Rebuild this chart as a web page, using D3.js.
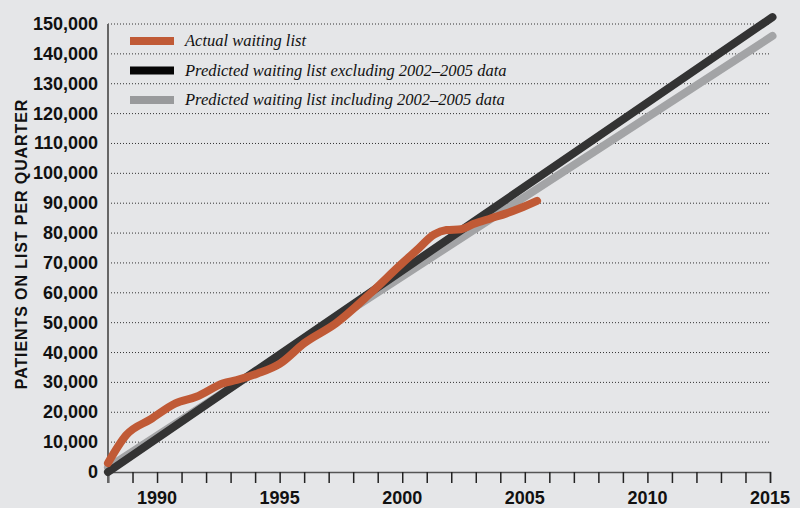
<!DOCTYPE html>
<html>
<head>
<meta charset="utf-8">
<script src="https://cdn.jsdelivr.net/npm/d3@7"></script>
<style>
  body { margin: 0; background: #e5e6e8; }
  svg { display: block; }
</style>
</head>
<body>
<svg width="800" height="508"></svg>
<script>
// actual waiting list (year, patients)
var actualYears = [1988.0, 1988.75, 1989.75, 1990.75, 1991.6, 1992.7, 1993.25, 1994.1, 1995.0, 1996.0,
  1997.3, 1998.7, 2000.0, 2000.6, 2001.3, 2001.8, 2002.4, 2002.9, 2003.6, 2004.25,
  2004.8, 2005.5];
var actualValues = [3000, 12400, 17700, 23000, 25200, 29700, 30800, 33000, 36200, 43100,
  49800, 59800, 69900, 74300, 79500, 81000, 81300, 83000, 84900, 86600,
  88300, 90800];

// predicted lines (start and end)
var predYears = [1988, 2015.1];
var predExcluding = [0, 152300];
var predIncluding = [1500, 146000];

var yTicks = d3.range(0, 150001, 10000);
var xLabelYears = [1990, 1995, 2000, 2005, 2010, 2015];

var legendLabels = ['Actual waiting list',
  'Predicted waiting list excluding 2002\u20132005 data',
  'Predicted waiting list including 2002\u20132005 data'];
var lineColors = ['#c05a36', '#333333', '#a3a4a6'];
var swatchColors = ['#c05a36', '#050505', '#999a9c'];

var svg = d3.select('svg');

var x = d3.scaleLinear().domain([1988, 2015]).range([108, 770]);
var y = d3.scaleLinear().domain([0, 150000]).range([472, 24]);

// gridlines
svg.append('g')
  .selectAll('line')
  .data(yTicks.filter(function(d){ return d > 0; }))
  .enter()
  .append('line')
  .attr('x1', 108)
  .attr('x2', 771)
  .attr('y1', function(d){ return y(d); })
  .attr('y2', function(d){ return y(d); })
  .attr('stroke', '#333')
  .attr('stroke-width', 1)
  .attr('stroke-dasharray', '1,2');

// y tick labels
svg.append('g')
  .selectAll('text')
  .data(yTicks)
  .enter()
  .append('text')
  .attr('x', 98)
  .attr('y', function(d){ return y(d) + 6; })
  .attr('text-anchor', 'end')
  .attr('font-family', '"Liberation Sans Narrow", "Arial Narrow", sans-serif')
  .attr('font-weight', 'bold')
  .attr('font-size', 18)
  .attr('fill', '#111')
  .text(function(d){ return d3.format(',')(d); });

// x axis
var xAxis = svg.append('g')
  .attr('transform', 'translate(0,472)')
  .call(d3.axisBottom(x).tickValues(d3.range(1988, 2016)).tickSize(11).tickFormat(''));
xAxis.select('.domain').attr('stroke', '#555').attr('stroke-width', 1.5);
xAxis.selectAll('.tick line').attr('stroke', '#222').attr('stroke-width', 1.5);

svg.append('g')
  .selectAll('text')
  .data(xLabelYears)
  .enter()
  .append('text')
  .attr('x', function(d){ return x(d); })
  .attr('y', 504)
  .attr('text-anchor', 'middle')
  .attr('font-family', '"Liberation Sans Narrow", "Arial Narrow", sans-serif')
  .attr('font-weight', 'bold')
  .attr('font-size', 18)
  .attr('fill', '#111')
  .text(function(d){ return d; });

// y axis line
svg.append('line')
  .attr('x1', 108).attr('x2', 108)
  .attr('y1', 24).attr('y2', 483)
  .attr('stroke', '#666')
  .attr('stroke-width', 2);

// y title
svg.append('text')
  .attr('transform', 'translate(27,244) rotate(-90)')
  .attr('text-anchor', 'middle')
  .attr('font-family', '"Liberation Sans", Arial, sans-serif')
  .attr('font-weight', 'bold')
  .attr('font-size', 16)
  .attr('letter-spacing', 0.9)
  .attr('fill', '#111')
  .text('PATIENTS ON LIST PER QUARTER');

// lines
var line = d3.line()
  .x(function(d){ return x(d[0]); })
  .y(function(d){ return y(d[1]); });

svg.append('path')
  .datum(d3.zip(predYears, predIncluding))
  .attr('d', line)
  .attr('fill', 'none')
  .attr('stroke', lineColors[2])
  .attr('stroke-width', 8)
  .attr('stroke-linecap', 'round');

svg.append('path')
  .datum(d3.zip(predYears, predExcluding))
  .attr('d', line)
  .attr('fill', 'none')
  .attr('stroke', lineColors[1])
  .attr('stroke-width', 8)
  .attr('stroke-linecap', 'round');

svg.append('path')
  .datum(d3.zip(actualYears, actualValues))
  .attr('d', line.curve(d3.curveMonotoneX))
  .attr('fill', 'none')
  .attr('stroke', lineColors[0])
  .attr('stroke-width', 8)
  .attr('stroke-linecap', 'round')
  .attr('stroke-linejoin', 'round');

// legend
var legend = svg.append('g')
  .selectAll('g')
  .data(legendLabels)
  .enter()
  .append('g')
  .attr('transform', function(d, i){ return 'translate(130,' + (41 + i * 29.5) + ')'; });

legend.append('rect')
  .attr('x', 0)
  .attr('y', -4)
  .attr('width', 44)
  .attr('height', 8)
  .attr('fill', function(d, i){ return swatchColors[i]; });

legend.append('text')
  .attr('x', 55)
  .attr('y', 5)
  .attr('font-family', '"Liberation Serif", "Times New Roman", serif')
  .attr('font-style', 'italic')
  .attr('font-size', 16.5)
  .attr('fill', '#111')
  .text(function(d){ return d; });
</script>
</body>
</html>
